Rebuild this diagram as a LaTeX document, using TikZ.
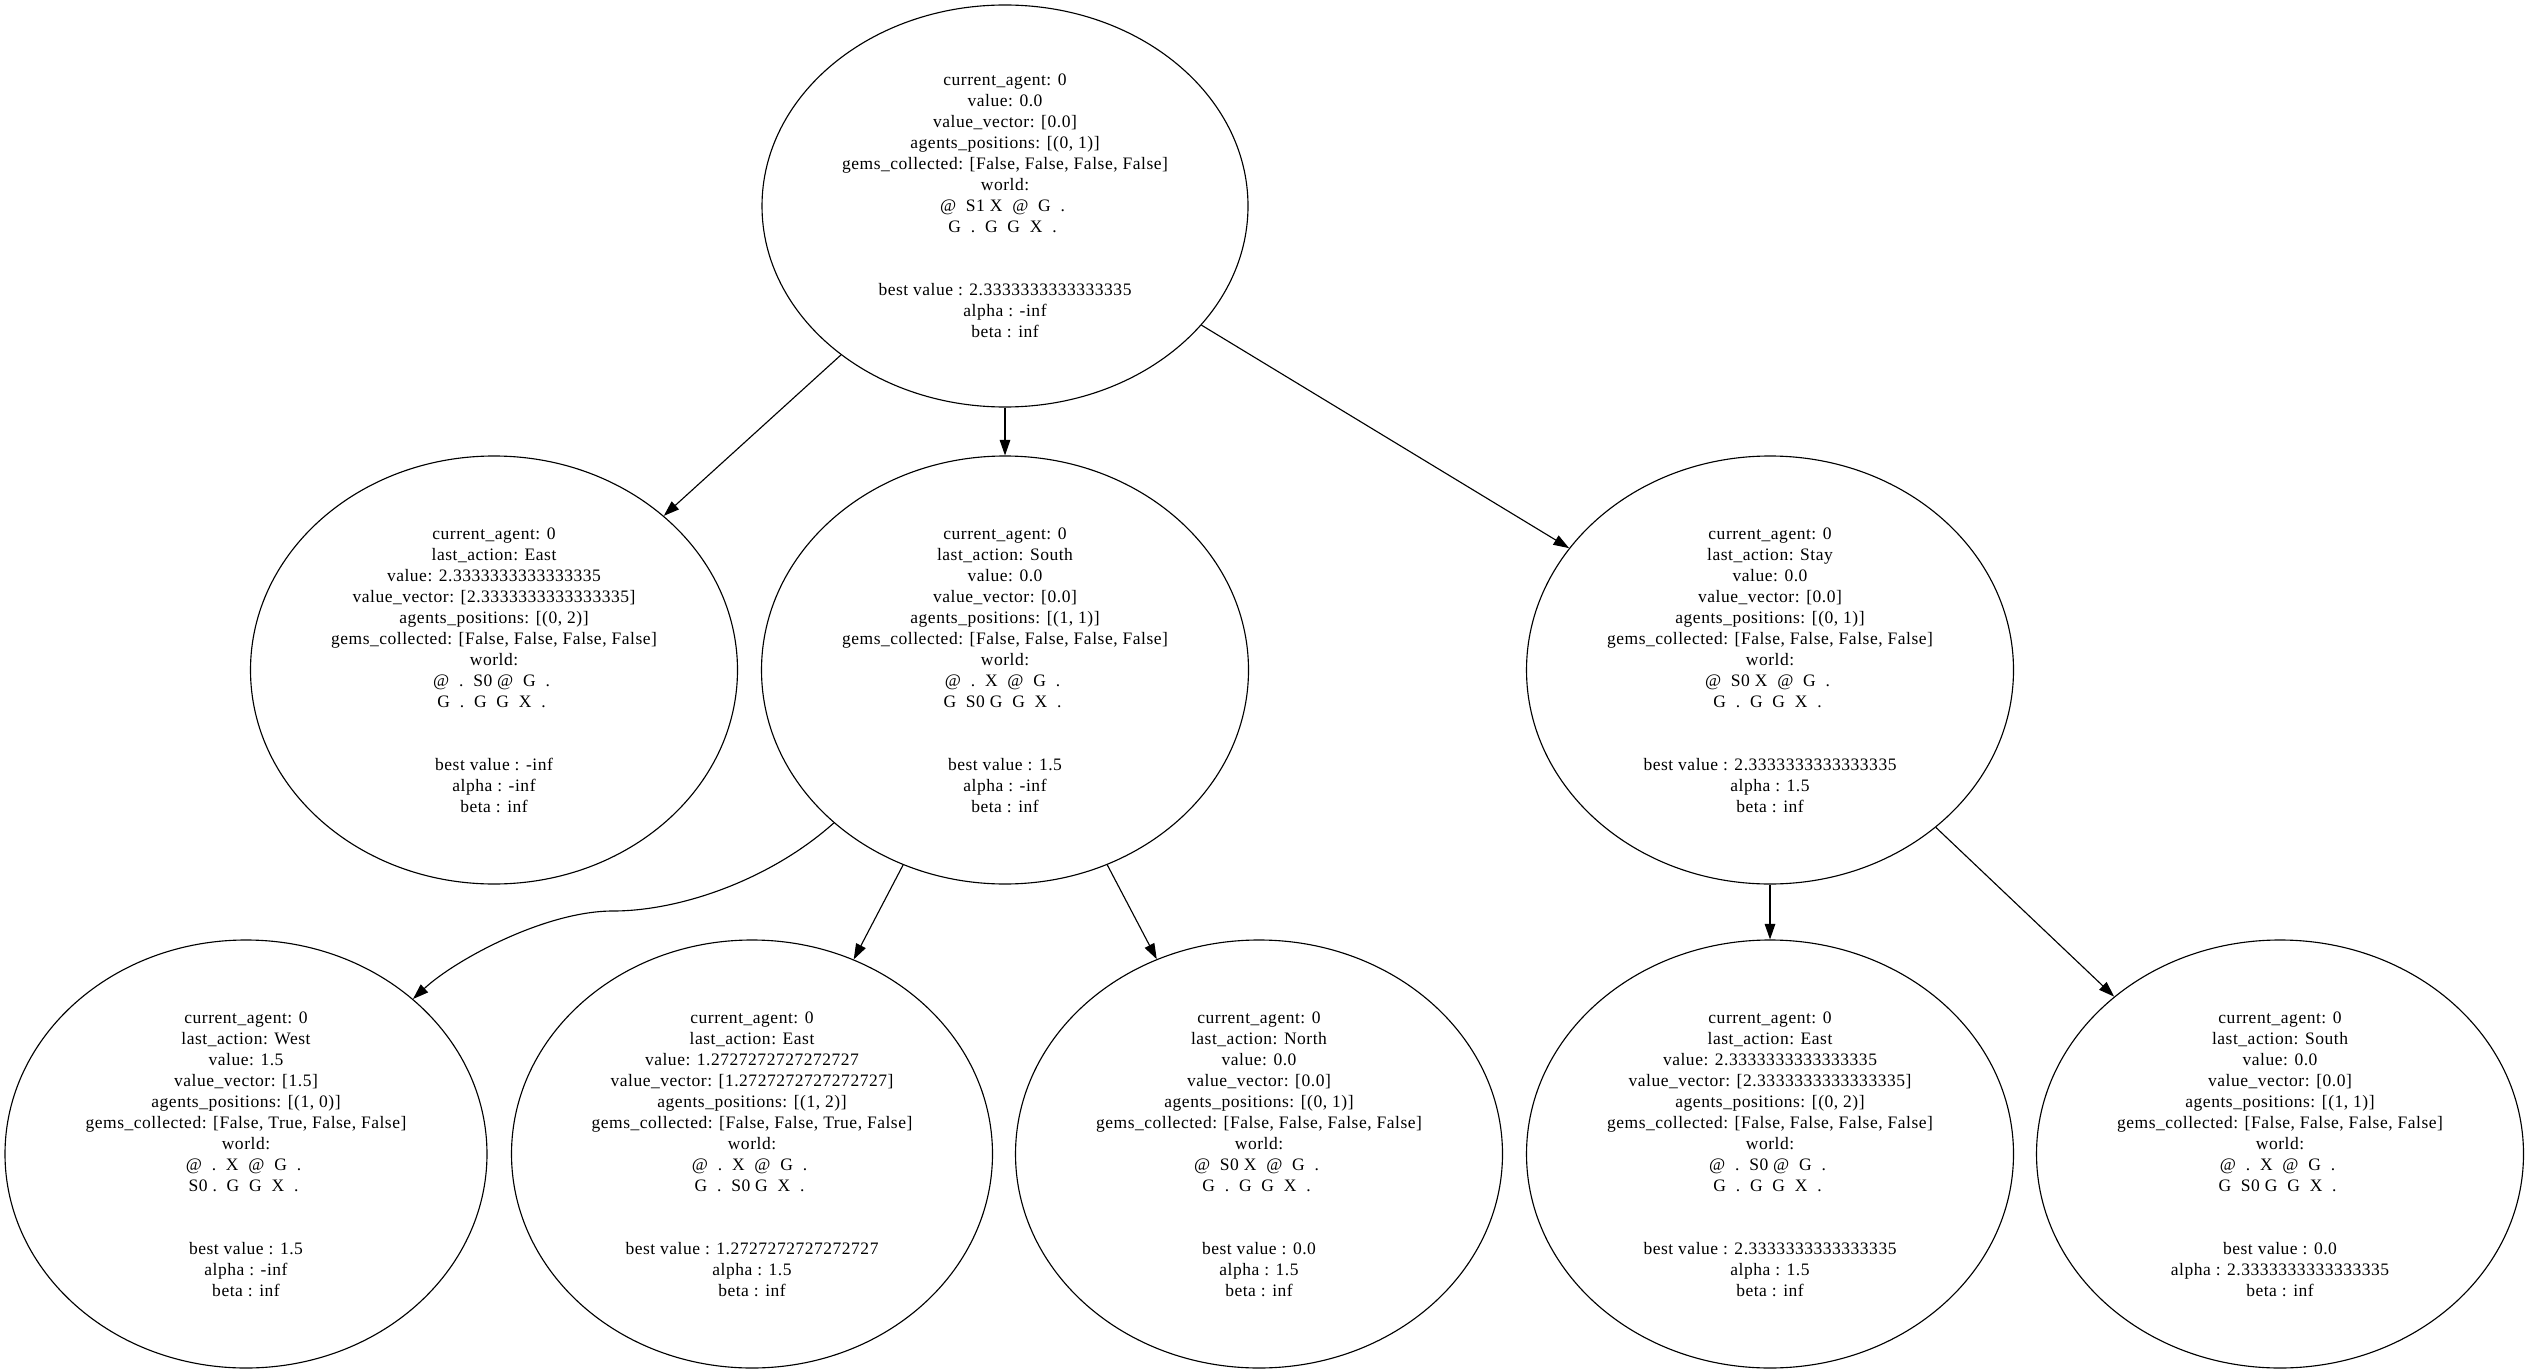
\documentclass[tikz,border=0pt]{standalone}
\usepackage{fontspec}
\setmainfont{Liberation Serif}[LetterSpace=3]
\usetikzlibrary{shapes.geometric,arrows.meta}

% two spaces between grid cells
\newcommand{\gs}{\ \ }

\tikzset{
  statenode/.style={draw, ellipse, line width=0.9pt, inner sep=0pt,
    minimum width=389.6pt, minimum height=342.4pt, align=center,
    font=\fontsize{14pt}{16.8pt}\selectfont},
  rootnode/.style={statenode, minimum width=388.8pt, minimum height=321.6pt},
  edge/.style={line width=0.9pt, -{Triangle[length=12.5pt,width=8.5pt]}}
}

\begin{document}
\begin{tikzpicture}[x=0.8pt, y=-0.8pt]
\fill[white] (0,0) rectangle (2529,1372);
\useasboundingbox (0,0) rectangle (2529,1372);

% root state
\node[rootnode] (r) at (1005,206) {current\_agent: 0\\value: 0.0\\value\_vector: [0.0]\\agents\_positions: [(0, 1)]\\gems\_collected: [False, False, False, False]\\world:\\@\gs S1 X\gs @\gs G\gs .\ \mbox{}\\G\gs .\gs G\gs G\gs X\gs .\ \mbox{}\\~\\~\\best value : 2.3333333333333335\\alpha : -inf\\beta : inf};

% second level
\node[statenode] (e2) at (494,670) {current\_agent: 0\\last\_action: East\\value: 2.3333333333333335\\value\_vector: [2.3333333333333335]\\agents\_positions: [(0, 2)]\\gems\_collected: [False, False, False, False]\\world:\\@\gs .\gs S0 @\gs G\gs .\ \mbox{}\\G\gs .\gs G\gs G\gs X\gs .\ \mbox{}\\~\\~\\best value : -inf\\alpha : -inf\\beta : inf};

\node[statenode] (s2) at (1005,670) {current\_agent: 0\\last\_action: South\\value: 0.0\\value\_vector: [0.0]\\agents\_positions: [(1, 1)]\\gems\_collected: [False, False, False, False]\\world:\\@\gs .\gs X\gs @\gs G\gs .\ \mbox{}\\G\gs S0 G\gs G\gs X\gs .\ \mbox{}\\~\\~\\best value : 1.5\\alpha : -inf\\beta : inf};

\node[statenode] (t2) at (1770,670) {current\_agent: 0\\last\_action: Stay\\value: 0.0\\value\_vector: [0.0]\\agents\_positions: [(0, 1)]\\gems\_collected: [False, False, False, False]\\world:\\@\gs S0 X\gs @\gs G\gs .\ \mbox{}\\G\gs .\gs G\gs G\gs X\gs .\ \mbox{}\\~\\~\\best value : 2.3333333333333335\\alpha : 1.5\\beta : inf};

% third level
\node[statenode, minimum width=385.6pt] (w3) at (246,1154) {current\_agent: 0\\last\_action: West\\value: 1.5\\value\_vector: [1.5]\\agents\_positions: [(1, 0)]\\gems\_collected: [False, True, False, False]\\world:\\@\gs .\gs X\gs @\gs G\gs .\ \mbox{}\\S0 .\gs G\gs G\gs X\gs .\ \mbox{}\\~\\~\\best value : 1.5\\alpha : -inf\\beta : inf};

\node[statenode, minimum width=384.8pt] (e3) at (752,1154) {current\_agent: 0\\last\_action: East\\value: 1.2727272727272727\\value\_vector: [1.2727272727272727]\\agents\_positions: [(1, 2)]\\gems\_collected: [False, False, True, False]\\world:\\@\gs .\gs X\gs @\gs G\gs .\ \mbox{}\\G\gs .\gs S0 G\gs X\gs .\ \mbox{}\\~\\~\\best value : 1.2727272727272727\\alpha : 1.5\\beta : inf};

\node[statenode] (n3) at (1259,1154) {current\_agent: 0\\last\_action: North\\value: 0.0\\value\_vector: [0.0]\\agents\_positions: [(0, 1)]\\gems\_collected: [False, False, False, False]\\world:\\@\gs S0 X\gs @\gs G\gs .\ \mbox{}\\G\gs .\gs G\gs G\gs X\gs .\ \mbox{}\\~\\~\\best value : 0.0\\alpha : 1.5\\beta : inf};

\node[statenode] (te3) at (1770,1154) {current\_agent: 0\\last\_action: East\\value: 2.3333333333333335\\value\_vector: [2.3333333333333335]\\agents\_positions: [(0, 2)]\\gems\_collected: [False, False, False, False]\\world:\\@\gs .\gs S0 @\gs G\gs .\ \mbox{}\\G\gs .\gs G\gs G\gs X\gs .\ \mbox{}\\~\\~\\best value : 2.3333333333333335\\alpha : 1.5\\beta : inf};

\node[statenode] (ts3) at (2280,1154) {current\_agent: 0\\last\_action: South\\value: 0.0\\value\_vector: [0.0]\\agents\_positions: [(1, 1)]\\gems\_collected: [False, False, False, False]\\world:\\@\gs .\gs X\gs @\gs G\gs .\ \mbox{}\\G\gs S0 G\gs G\gs X\gs .\ \mbox{}\\~\\~\\best value : 0.0\\alpha : 2.3333333333333335\\beta : inf};

% edges
\draw[edge] (r) -- (e2);
\draw[edge] (r) -- (s2);
\draw[edge] (r) -- (t2);
\draw[edge] (s2) .. controls (770,880) and (680,911) .. (613,911)
                 .. controls (545,911) and (455,960) .. (w3);
\draw[edge] (s2) -- (e3);
\draw[edge] (s2) -- (n3);
\draw[edge] (t2) -- (te3);
\draw[edge] (t2) -- (ts3);
\end{tikzpicture}
\end{document}
